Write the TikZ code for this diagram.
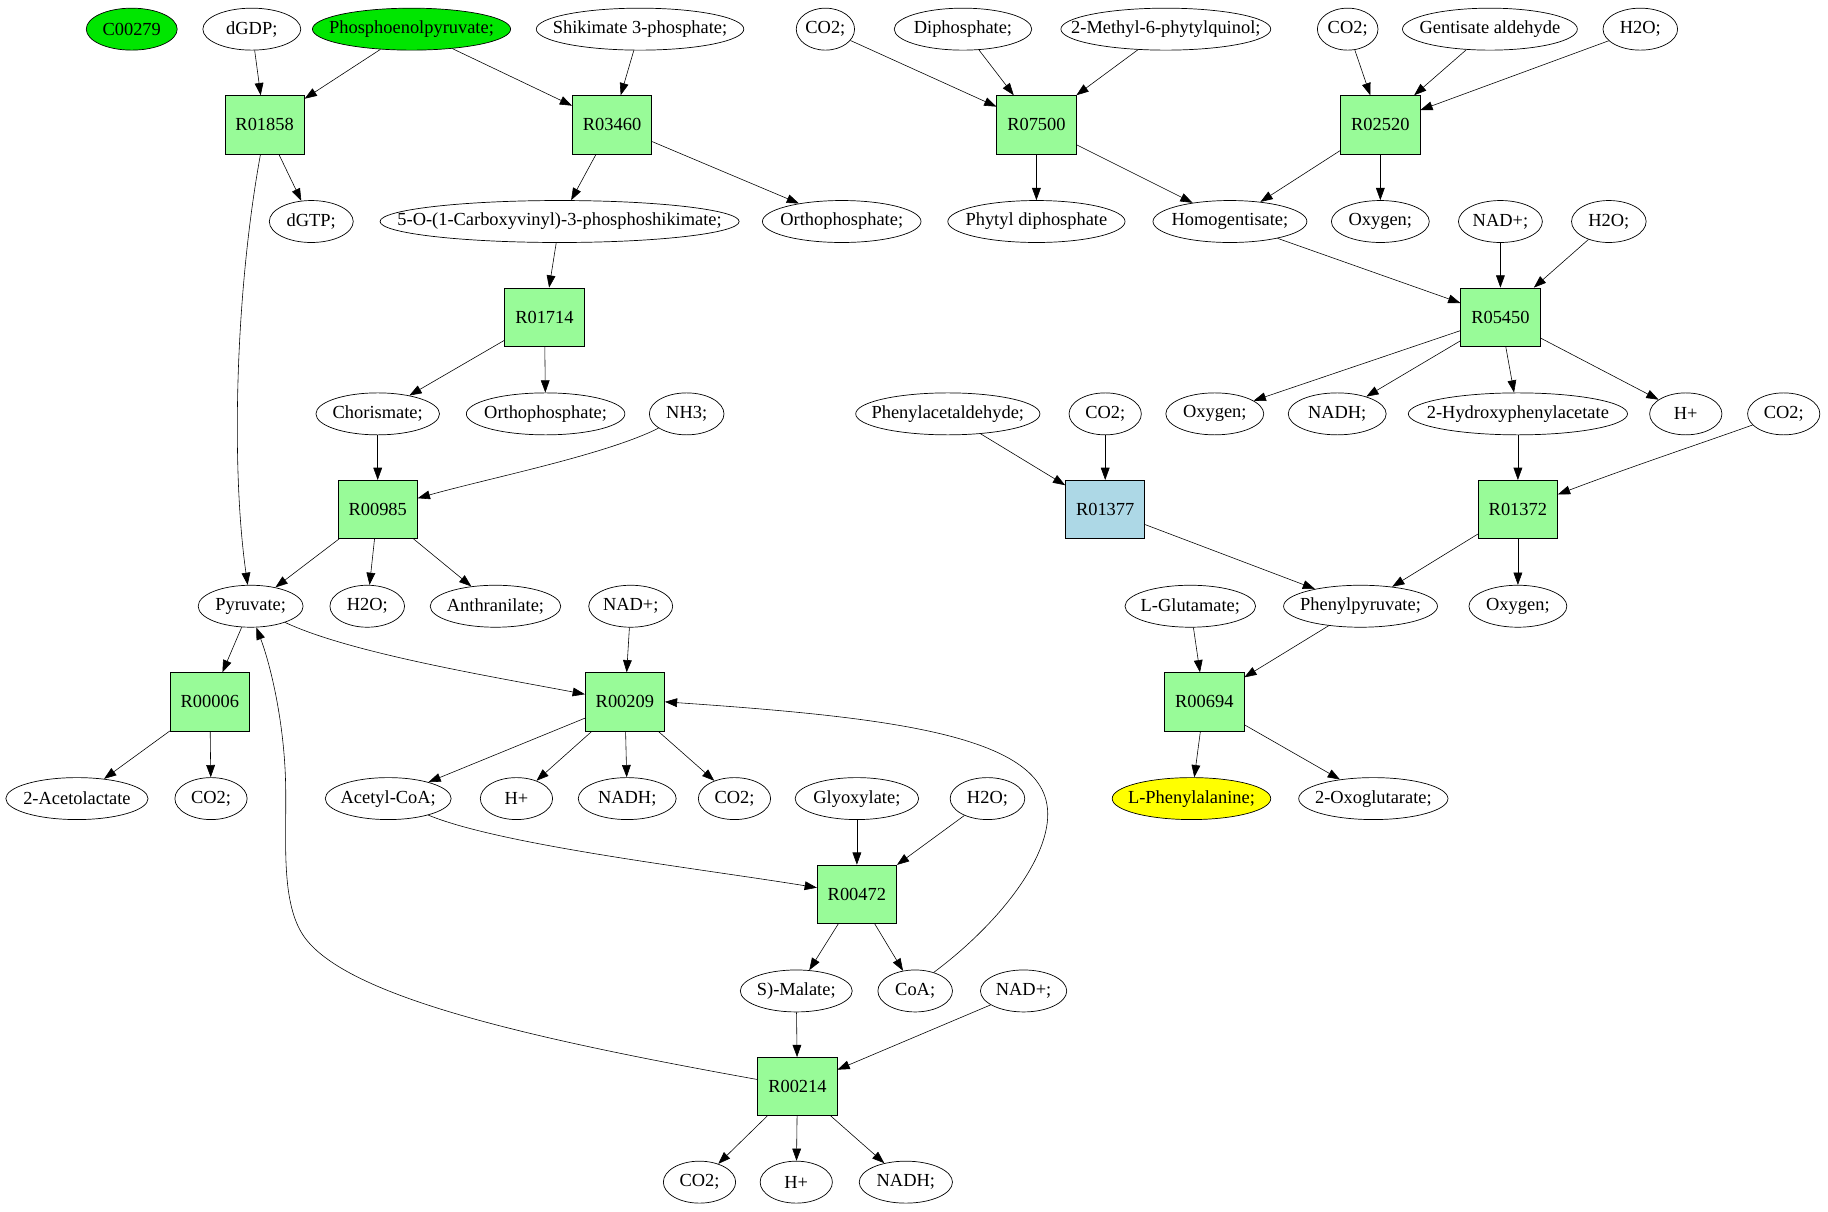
\documentclass[tikz,border=0pt]{standalone}
\usepackage{fontspec}
\setmainfont{Liberation Serif}
\usetikzlibrary{arrows.meta,shapes.geometric}
\definecolor{boxgreen}{RGB}{152,251,152}
\definecolor{boxblue}{RGB}{173,216,230}
\definecolor{metgreen}{RGB}{0,230,0}
\definecolor{metyellow}{RGB}{255,255,0}
\newcommand\zt[1]{\makebox[0pt]{#1}}
\begin{document}
\begin{tikzpicture}[x=1pt,y=-1pt,
  met/.style={ellipse,draw,line width=0.6pt,minimum height=36pt,inner sep=0pt,font=\fontsize{15.8}{18}\selectfont},
  rxn/.style={rectangle,draw,line width=0.6pt,fill=boxgreen,minimum width=68pt,minimum height=50pt,inner sep=0pt,font=\fontsize{15.8}{18}\selectfont},
  arr/.style={-{Triangle[length=10.5pt,width=7.5pt]},line width=0.5pt}]
\useasboundingbox (0,0) rectangle (1568,1039);
% row 1
\node[met,fill=metgreen,minimum width=78pt] (c00279) at (113,25) {\zt{C00279}};
\node[met,minimum width=84pt] (dgdp) at (216,25) {\zt{dGDP;}};
\node[met,fill=metgreen,minimum width=170pt] (pep) at (353,25) {\zt{Phosphoenolpyruvate;}};
\node[met,minimum width=178pt] (shik) at (549,25) {\zt{Shikimate 3-phosphate;}};
\node[met,minimum width=50pt] (co2a) at (708,25) {\zt{CO2;}};
\node[met,minimum width=118pt] (diph) at (826,25) {\zt{Diphosphate;}};
\node[met,minimum width=180pt] (mpq) at (1000,25) {\zt{2-Methyl-6-phytylquinol;}};
\node[met,minimum width=52pt] (co2b) at (1156,25) {\zt{CO2;}};
\node[met,minimum width=150pt] (gent) at (1278,25) {\zt{Gentisate aldehyde}};
\node[met,minimum width=64pt] (h2oa) at (1407,25) {\zt{H2O;}};
% row 2
\node[rxn] (r01858) at (227,107) {R01858};
\node[rxn] (r03460) at (525,107) {R03460};
\node[rxn] (r07500) at (889,107) {R07500};
\node[rxn] (r02520) at (1184,107) {R02520};
% row 3
\node[met,minimum width=72pt] (dgtp) at (267,190) {\zt{dGTP;}};
\node[met,minimum width=308pt] (cvs) at (480,190) {\zt{5-O-(1-Carboxyvinyl)-3-phosphoshikimate;}};
\node[met,minimum width=136pt] (ortho1) at (722,190) {\zt{Orthophosphate;}};
\node[met,minimum width=152pt] (phytyl) at (889,190) {\zt{Phytyl diphosphate}};
\node[met,minimum width=132pt] (homog) at (1055,190) {\zt{Homogentisate;}};
\node[met,minimum width=84pt] (oxy1) at (1184,190) {\zt{Oxygen;}};
\node[met,minimum width=72pt] (nad1) at (1287,190) {\zt{NAD+;}};
\node[met,minimum width=64pt] (h2ob) at (1380,190) {\zt{H2O;}};
% row 4
\node[rxn] (r01714) at (467,272) {R01714};
\node[rxn] (r05450) at (1287,272) {R05450};
% row 5
\node[met,minimum width=106pt] (chor) at (324,355) {\zt{Chorismate;}};
\node[met,minimum width=136pt] (ortho2) at (468,355) {\zt{Orthophosphate;}};
\node[met,minimum width=64pt] (nh3) at (589,355) {\zt{NH3;}};
\node[met,minimum width=158pt] (phald) at (813,355) {\zt{Phenylacetaldehyde;}};
\node[met,minimum width=62pt] (co2c) at (948,355) {\zt{CO2;}};
\node[met,minimum width=84pt] (oxy2) at (1042,355) {\zt{Oxygen;}};
\node[met,minimum width=84pt] (nadh1) at (1147,355) {\zt{NADH;}};
\node[met,minimum width=188pt] (hpa) at (1302,355) {\zt{2-Hydroxyphenylacetate}};
\node[met,minimum width=62pt] (hplus1) at (1446,355) {\zt{H+}};
\node[met,minimum width=62pt] (co2d) at (1530,355) {\zt{CO2;}};
% row 6
\node[rxn] (r00985) at (324,437) {R00985};
\node[rxn,fill=boxblue] (r01377) at (948,437) {R01377};
\node[rxn] (r01372) at (1302,437) {R01372};
% row 7
\node[met,minimum width=90pt] (pyr) at (215,520) {\zt{Pyruvate;}};
\node[met,minimum width=64pt] (h2oc) at (315,520) {\zt{H2O;}};
\node[met,minimum width=112pt] (anth) at (425,520) {\zt{Anthranilate;}};
\node[met,minimum width=72pt] (nad2) at (541,520) {\zt{NAD+;}};
\node[met,minimum width=112pt] (glu) at (1021,520) {\zt{L-Glutamate;}};
\node[met,minimum width=132pt] (phpyr) at (1167,520) {\zt{Phenylpyruvate;}};
\node[met,minimum width=84pt] (oxy3) at (1302,520) {\zt{Oxygen;}};
% row 8
\node[rxn] (r00006) at (180,602) {R00006};
\node[rxn] (r00209) at (536,602) {R00209};
\node[rxn] (r00694) at (1033,602) {R00694};
% row 9
\node[met,minimum width=122pt] (acl) at (66,685) {\zt{2-Acetolactate}};
\node[met,minimum width=62pt] (co2e) at (181,685) {\zt{CO2;}};
\node[met,minimum width=108pt] (acoa) at (333,685) {\zt{Acetyl-CoA;}};
\node[met,minimum width=62pt] (hplus2) at (443,685) {\zt{H+}};
\node[met,minimum width=84pt] (nadh2) at (538,685) {\zt{NADH;}};
\node[met,minimum width=62pt] (co2f) at (630,685) {\zt{CO2;}};
\node[met,minimum width=106pt] (glyox) at (735,685) {\zt{Glyoxylate;}};
\node[met,minimum width=64pt] (h2od) at (847,685) {\zt{H2O;}};
\node[met,fill=metyellow,minimum width=136pt] (phe) at (1022,685) {\zt{L-Phenylalanine;}};
\node[met,minimum width=128pt] (oxog) at (1178,685) {\zt{2-Oxoglutarate;}};
% row 10
\node[rxn] (r00472) at (735,767) {R00472};
% row 11
\node[met,minimum width=96pt] (mal) at (683,850) {\zt{S)-Malate;}};
\node[met,minimum width=64pt] (coa) at (785,850) {\zt{CoA;}};
\node[met,minimum width=74pt] (nad3) at (878,850) {\zt{NAD+;}};
% row 12
\node[rxn] (r00214) at (684,932) {R00214};
% row 13
\node[met,minimum width=62pt] (co2g) at (600,1014) {\zt{CO2;}};
\node[met,minimum width=62pt] (hplus3) at (683,1014) {\zt{H+}};
\node[met,minimum width=80pt] (nadh3) at (777,1014) {\zt{NADH;}};
% edges
\draw[arr] (dgdp) -- (r01858);
\draw[arr] (pep) -- (r01858);
\draw[arr] (pep) -- (r03460);
\draw[arr] (shik) -- (r03460);
\draw[arr] (r01858) -- (dgtp);
\draw[arr] (r01858.-98) .. controls (202,250) and (198,400) .. (pyr.98);
\draw[arr] (r03460) -- (cvs);
\draw[arr] (r03460) -- (ortho1);
\draw[arr] (cvs) -- (r01714);
\draw[arr] (r01714) -- (chor);
\draw[arr] (r01714) -- (ortho2);
\draw[arr] (chor) -- (r00985);
\draw[arr] (nh3) .. controls (520,390) and (420,410) .. (r00985);
\draw[arr] (r00985) -- (pyr);
\draw[arr] (r00985) -- (h2oc);
\draw[arr] (r00985) -- (anth);
\draw[arr] (pyr) -- (r00006);
\draw[arr] (pyr) .. controls (300,560) and (420,580) .. (r00209);
\draw[arr] (r00006) -- (acl);
\draw[arr] (r00006) -- (co2e);
\draw[arr] (nad2) -- (r00209);
\draw[arr] (r00209) -- (acoa);
\draw[arr] (r00209) -- (hplus2);
\draw[arr] (r00209) -- (nadh2);
\draw[arr] (r00209) -- (co2f);
\draw[arr] (acoa) .. controls (430,725) and (600,745) .. (r00472);
\draw[arr] (glyox) -- (r00472);
\draw[arr] (h2od) -- (r00472);
\draw[arr] (r00472) -- (mal);
\draw[arr] (r00472) -- (coa);
\draw[arr] (coa.45) .. controls (860,790) and (905,730) .. (898,690) .. controls (888,630) and (760,615) .. (r00209.east);
\draw[arr] (mal) -- (r00214);
\draw[arr] (nad3) -- (r00214);
\draw[arr] (r00214.170) .. controls (450,890) and (300,855) .. (262,805) .. controls (240,776) and (246,720) .. (245,673) .. controls (244,620) and (232,570) .. (pyr.-75);
\draw[arr] (r00214) -- (co2g);
\draw[arr] (r00214) -- (hplus3);
\draw[arr] (r00214) -- (nadh3);
\draw[arr] (co2a) -- (r07500);
\draw[arr] (diph) -- (r07500);
\draw[arr] (mpq) -- (r07500);
\draw[arr] (r07500) -- (phytyl);
\draw[arr] (r07500) -- (homog);
\draw[arr] (co2b) -- (r02520);
\draw[arr] (gent) -- (r02520);
\draw[arr] (h2oa) -- (r02520);
\draw[arr] (r02520) -- (homog);
\draw[arr] (r02520) -- (oxy1);
\draw[arr] (homog) -- (r05450);
\draw[arr] (nad1) -- (r05450);
\draw[arr] (h2ob) -- (r05450);
\draw[arr] (r05450) -- (oxy2);
\draw[arr] (r05450) -- (nadh1);
\draw[arr] (r05450) -- (hpa);
\draw[arr] (r05450) -- (hplus1);
\draw[arr] (phald) -- (r01377);
\draw[arr] (co2c) -- (r01377);
\draw[arr] (r01377) -- (phpyr);
\draw[arr] (hpa) -- (r01372);
\draw[arr] (co2d) .. controls (1460,380) and (1400,400) .. (r01372);
\draw[arr] (r01372) -- (phpyr);
\draw[arr] (r01372) -- (oxy3);
\draw[arr] (glu) -- (r00694);
\draw[arr] (phpyr) -- (r00694);
\draw[arr] (r00694) -- (phe);
\draw[arr] (r00694) -- (oxog);
\end{tikzpicture}
\end{document}
